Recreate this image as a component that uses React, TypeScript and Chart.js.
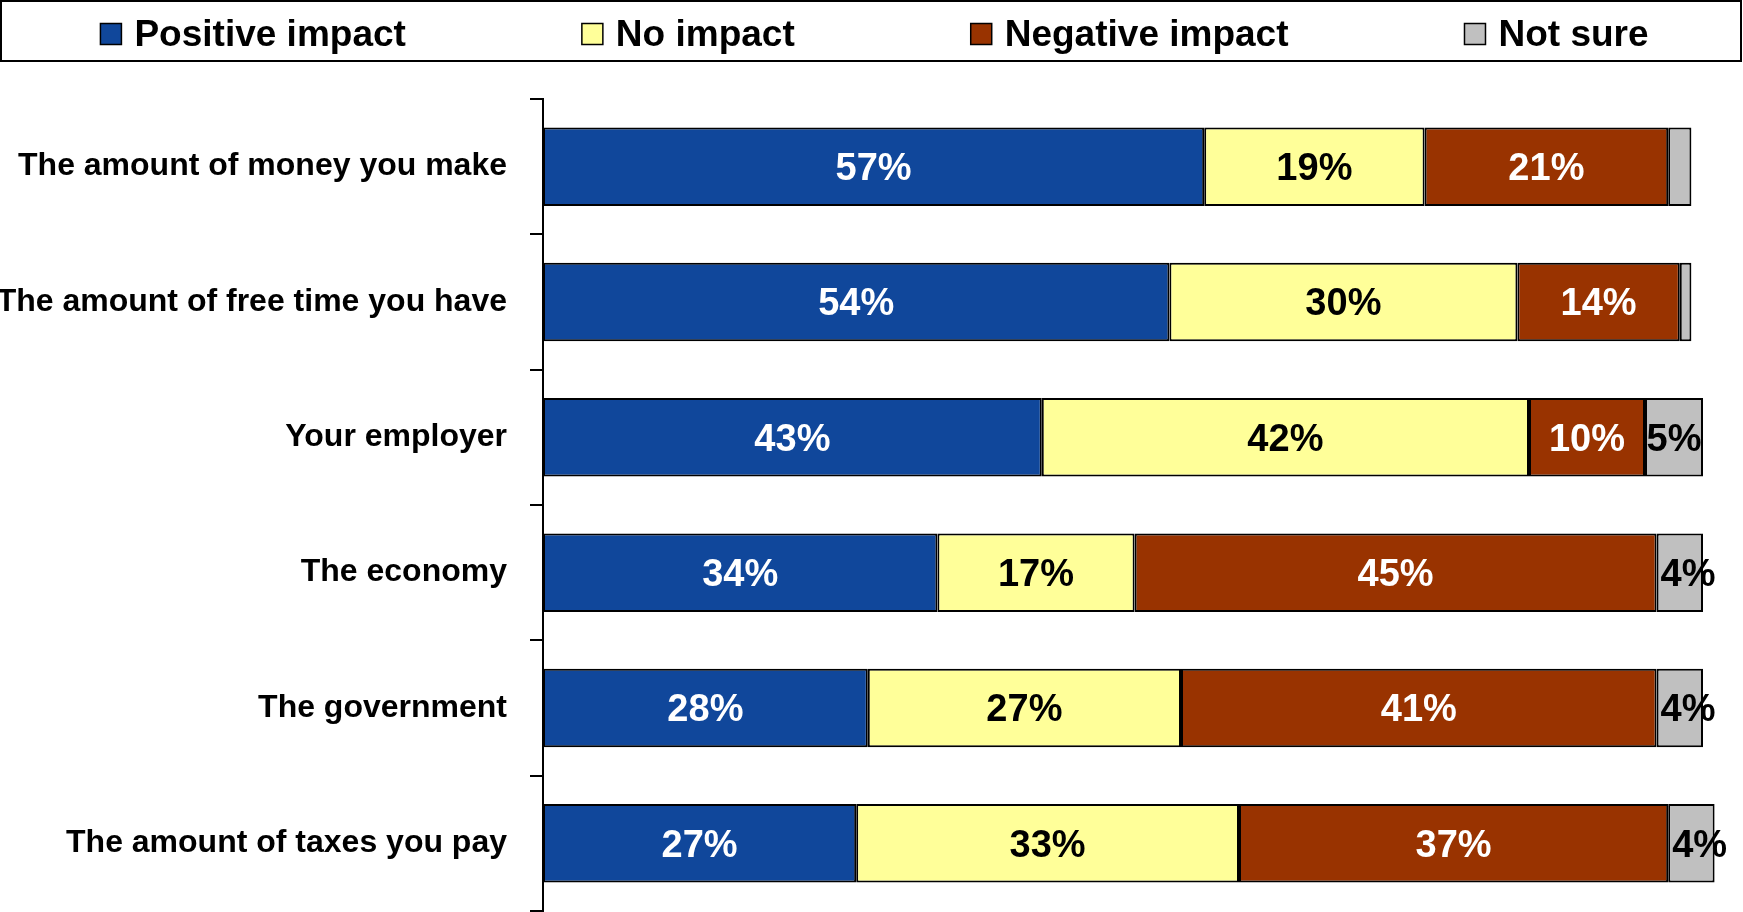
import React, { useEffect, useRef } from "react";
import { Chart, registerables } from "chart.js";

Chart.register(...registerables);

const categories = [
  "The amount of money you make",
  "The amount of free time you have",
  "Your employer",
  "The economy",
  "The government",
  "The amount of taxes you pay",
];
const seriesNames = ["Positive impact", "No impact", "Negative impact", "Not sure"];
const positive = [57, 54, 43, 34, 28, 27];
const noImpact = [19, 30, 42, 17, 27, 33];
const negative = [21, 14, 10, 45, 41, 37];
const notSure = [2, 1, 5, 4, 4, 4];
const seriesColors = ["#10479B", "#FFFF99", "#993300", "#C0C0C0"];
const labelColors = ["#FFFFFF", "#000000", "#FFFFFF", "#000000"];

const FONT = "'Liberation Sans', Arial, Helvetica, sans-serif";
const W = 1743;
const H = 912;

const legendBoxPlugin = {
  id: "legendBoxPlugin",
  afterDraw(chart: any) {
    const ctx = chart.ctx;
    ctx.save();
    ctx.lineWidth = 2;
    ctx.strokeStyle = "#000";
    ctx.strokeRect(1, 1, chart.width - 3, 60);
    ctx.font = `bold 37px ${FONT}`;
    const box = 21;
    const gapText = 13;
    const gap = 176;
    const widths = chart.data.datasets.map(
      (d: any) => box + gapText + ctx.measureText(d.label).width
    );
    const total = widths.reduce((a: number, b: number) => a + b, 0) + gap * (widths.length - 1);
    let x = (chart.width - total) / 2 + 3;
    const cy = 34;
    chart.data.datasets.forEach((d: any, i: number) => {
      ctx.fillStyle = d.backgroundColor;
      ctx.fillRect(x, cy - box / 2, box, box);
      ctx.lineWidth = 1.5;
      ctx.strokeStyle = "#000";
      ctx.strokeRect(x, cy - box / 2, box, box);
      ctx.fillStyle = "#000";
      ctx.textBaseline = "middle";
      ctx.textAlign = "left";
      ctx.fillText(d.label, x + box + gapText, cy + 2);
      x += widths[i] + gap;
    });
    ctx.restore();
  },
};

const barLabelPlugin = {
  id: "barLabelPlugin",
  afterDatasetsDraw(chart: any) {
    const ctx = chart.ctx;
    ctx.save();
    ctx.font = `bold 38px ${FONT}`;
    ctx.textBaseline = "middle";
    chart.data.datasets.forEach((ds: any, i: number) => {
      const meta = chart.getDatasetMeta(i);
      meta.data.forEach((bar: any, j: number) => {
        const v = ds.data[j];
        if (v < 3) return;
        const p = bar.getProps(["x", "y", "base"], true);
        const txt = `${v}%`;
        const tw = ctx.measureText(txt).width;
        const left = Math.min(p.x, p.base);
        const bw = Math.abs(p.x - p.base);
        ctx.fillStyle = labelColors[i];
        if (tw > bw) {
          ctx.textAlign = "left";
          ctx.fillText(txt, left + 4, p.y + 3);
        } else {
          ctx.textAlign = "center";
          ctx.fillText(txt, left + bw / 2, p.y + 3);
        }
      });
    });
    ctx.restore();
  },
};

export default function App() {
  const ref = useRef<HTMLCanvasElement | null>(null);

  useEffect(() => {
    if (!ref.current) return;
    const values = [positive, noImpact, negative, notSure];
    const chart = new Chart(ref.current, {
      type: "bar",
      data: {
        labels: categories,
        datasets: values.map((data, i) => ({
          label: seriesNames[i],
          data,
          backgroundColor: seriesColors[i],
          borderColor: "#000000",
          borderWidth: 2,
          borderSkipped: false,
          barPercentage: 0.58,
          categoryPercentage: 1,
          clip: false as any,
        })),
      },
      options: {
        indexAxis: "y",
        animation: false,
        responsive: false,
        maintainAspectRatio: false,
        devicePixelRatio: 1,
        layout: { padding: { top: 99, right: 40, bottom: 1, left: 0 } },
        plugins: {
          legend: { display: false },
          tooltip: { enabled: false },
        },
        scales: {
          x: {
            stacked: true,
            display: false,
            min: 0,
            max: 100,
          },
          y: {
            stacked: true,
            afterFit(scale: any) {
              scale.width = 543;
              scale.paddingTop = 0;
              scale.paddingBottom = 0;
            },
            grid: {
              display: true,
              drawOnChartArea: false,
              drawTicks: true,
              tickLength: 13,
              color: "#000000",
              lineWidth: 2,
              offset: true,
            },
            border: { display: true, color: "#000000", width: 2 },
            ticks: {
              color: "#000000",
              padding: 23,
              autoSkip: false,
              font: { family: FONT, size: 32, weight: "bold" },
            },
          },
        },
      },
      plugins: [legendBoxPlugin, barLabelPlugin],
    } as any);
    return () => chart.destroy();
  }, []);

  return (
    <div
      style={{
        position: "fixed",
        left: 0,
        top: 0,
        width: W,
        height: H,
        background: "#ffffff",
      }}
    >
      <canvas ref={ref} width={W} height={H} style={{ display: "block", width: W, height: H }} />
    </div>
  );
}
